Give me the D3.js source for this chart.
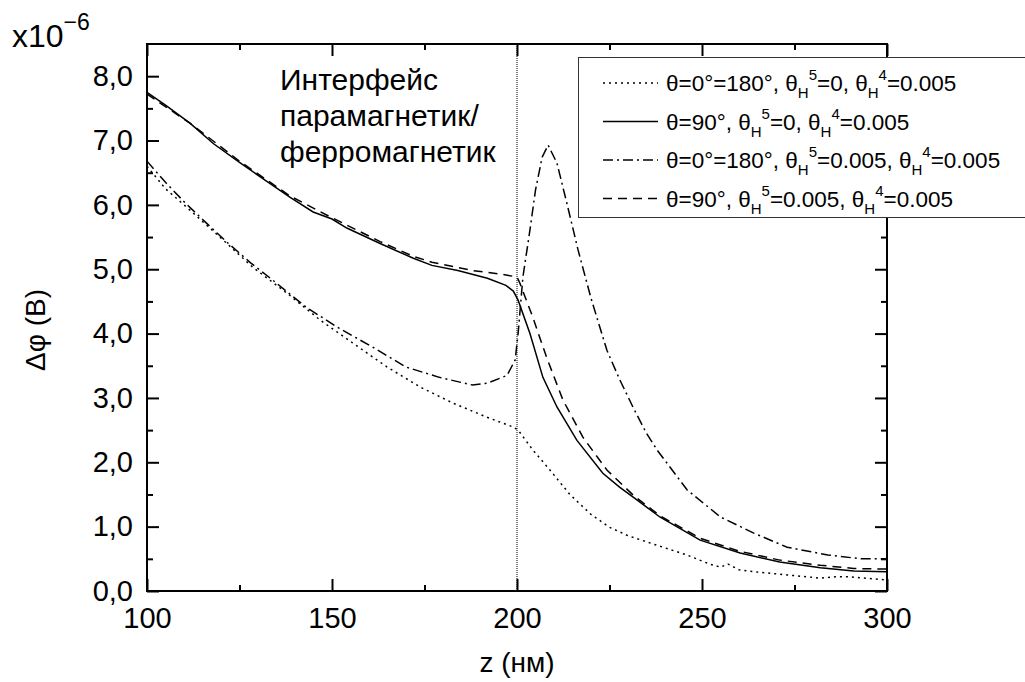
<!DOCTYPE html>
<html><head><meta charset="utf-8">
<script src="https://cdn.jsdelivr.net/npm/d3@7/dist/d3.min.js"></script>
<style>body{margin:0;background:#fff}svg{display:block;font-family:"Liberation Sans",Arial,sans-serif}</style>
</head><body><svg id="c" width="1025" height="682"></svg>
<script>
// ---- data (z in nm, value in units of 1e-6 V) ----
const xMajorTicks = [100, 150, 200, 250, 300];
const xMinorTicks = [125, 175, 225, 275];
const yMajorTicks = [0, 1, 2, 3, 4, 5, 6, 7, 8];
const yMinorTicks = [0.5, 1.5, 2.5, 3.5, 4.5, 5.5, 6.5, 7.5];
const interfaceZ = 200;
const annotationLines = ["Интерфейс", "парамагнетик/", "ферромагнетик"];

const dottedTheta0H5zero = [[100,6.60],[105,6.25],[110.8,5.96],[119.7,5.50],[128.6,5.03],[137.8,4.63],[146.8,4.21],[155.7,3.85],[164.9,3.48],[173.8,3.17],[182.7,2.92],[191.9,2.70],[198.9,2.55],[200.3,2.50],[204.3,2.19],[208.9,1.88],[214.3,1.50],[220,1.19],[225,0.99],[230,0.86],[236.8,0.73],[245.9,0.56],[252,0.42],[255,0.37],[257,0.42],[260,0.33],[264,0.30],[273,0.25],[282,0.20],[286,0.22],[290,0.22],[300,0.17]];
const solidTheta90H5zero = [[100,7.75],[105,7.55],[111.6,7.27],[118,6.95],[125,6.66],[132,6.38],[138.6,6.12],[144.9,5.89],[150,5.78],[154,5.64],[163,5.40],[172,5.17],[177,5.06],[184,4.98],[192,4.86],[197,4.75],[199,4.66],[200.3,4.52],[203.5,4.00],[207,3.32],[210.8,2.86],[216.2,2.34],[223.2,1.83],[227.8,1.61],[231.4,1.46],[238.6,1.15],[249.5,0.79],[260.3,0.59],[271,0.45],[282,0.36],[291,0.31],[300,0.30]];
const dashdotTheta0H5 = [[100,6.68],[105,6.35],[110,6.05],[116,5.72],[122,5.40],[128,5.10],[134,4.83],[143,4.41],[152,4.08],[161,3.79],[170,3.48],[179,3.32],[188,3.20],[192,3.23],[197.3,3.35],[199.5,3.59],[200.3,4.00],[201.6,4.88],[203.5,5.61],[205,6.23],[206.8,6.74],[208.4,6.93],[210.8,6.65],[213.5,6.02],[216.5,5.30],[220,4.55],[224.3,3.74],[227.8,3.28],[231.4,2.85],[235,2.45],[238,2.18],[246,1.57],[255,1.15],[264,0.90],[273,0.68],[284,0.56],[293,0.50],[300,0.50]];
const dashedTheta90H5 = [[100,7.72],[111.6,7.27],[125,6.68],[138.6,6.14],[150,5.80],[163,5.43],[172,5.20],[177,5.11],[188,4.98],[196,4.92],[200,4.88],[200.8,4.78],[204.3,4.25],[208,3.63],[212.4,2.97],[217.8,2.39],[224.3,1.88],[231.4,1.49],[238.6,1.17],[249.5,0.82],[260,0.62],[271,0.48],[282,0.40],[291,0.35],[300,0.34]];

const seriesData = [dottedTheta0H5zero, solidTheta90H5zero, dashdotTheta0H5, dashedTheta90H5];
const seriesTheta = ["0°=180°", "90°", "0°=180°", "90°"];
const seriesH5 = ["0", "0", "0.005", "0.005"];
const seriesH4 = ["0.005", "0.005", "0.005", "0.005"];
const seriesDash = ["2,4", null, "10,4,2,4", "9,6"];

// ---- layout ----
const svg = d3.select("#c");
const L = 147, R = 887, T = 44, B = 591;
const x = d3.scaleLinear().domain([100, 300]).range([L, R]);
const y = d3.scaleLinear().domain([0, 8.5]).range([B, T]);
const fmt = d => d.toFixed(1).replace(".", ",");

// curves
const line = d3.line().x(d => x(d[0])).y(d => y(d[1]));
seriesData.forEach((s, i) => {
  svg.append("path").datum(s).attr("d", line).attr("fill", "none")
    .attr("stroke", "#000").attr("stroke-width", 1.5)
    .attr("stroke-dasharray", seriesDash[i]);
});

// interface line
svg.append("line").attr("x1", x(interfaceZ)).attr("x2", x(interfaceZ))
  .attr("y1", y(8.5)).attr("y2", y(0)).attr("stroke", "#000")
  .attr("stroke-width", 1).attr("stroke-dasharray", "1,1");

// axes
function axisG(gen, tx, ty) {
  const g = svg.append("g").attr("transform", `translate(${tx},${ty})`).call(gen);
  g.select(".domain").remove();
  g.selectAll("line").attr("stroke", "#000").attr("stroke-width", 2);
  g.selectAll("text").attr("font-size", 29).attr("fill", "#000")
    .attr("font-family", '"Liberation Sans",Arial,sans-serif');
  return g;
}
axisG(d3.axisBottom(x).tickValues(xMajorTicks).tickSize(-12).tickPadding(16).tickFormat(d3.format("d")), 0, B);
axisG(d3.axisBottom(x).tickValues(xMinorTicks).tickSize(-6).tickFormat(""), 0, B);
axisG(d3.axisTop(x).tickValues(xMajorTicks).tickSize(-12).tickFormat(""), 0, T);
axisG(d3.axisTop(x).tickValues(xMinorTicks).tickSize(-6).tickFormat(""), 0, T);
axisG(d3.axisLeft(y).tickValues(yMajorTicks).tickSize(-12).tickPadding(14).tickFormat(fmt), L, 0);
axisG(d3.axisLeft(y).tickValues(yMinorTicks).tickSize(-6).tickFormat(""), L, 0);
axisG(d3.axisRight(y).tickValues(yMajorTicks).tickSize(-12).tickFormat(""), R, 0);
axisG(d3.axisRight(y).tickValues(yMinorTicks).tickSize(-6).tickFormat(""), R, 0);

svg.append("rect").attr("x", L).attr("y", T).attr("width", R - L).attr("height", B - T)
  .attr("fill", "none").attr("stroke", "#000").attr("stroke-width", 2);

// multiplier
const mult = svg.append("text").attr("x", 12).attr("y", 47).attr("font-size", 32).attr("fill", "#000");
mult.append("tspan").text("x10");
mult.append("tspan").attr("font-size", 23).attr("dy", -17).text("−6");

// axis titles
svg.append("text").attr("x", (L + R) / 2).attr("y", 672).attr("text-anchor", "middle")
  .attr("font-size", 28).text("z (нм)");
svg.append("text").attr("transform", "translate(45,330) rotate(-90)").attr("text-anchor", "middle")
  .attr("font-size", 28).text("Δφ (B)");

// annotation
annotationLines.forEach((t, i) => {
  svg.append("text").attr("x", 280).attr("y", 90 + i * 36).attr("font-size", 30).text(t);
});

// legend
const lg = svg.append("g");
lg.append("rect").attr("x", 578.5).attr("y", 57.5).attr("width", 470).attr("height", 160)
  .attr("fill", "#fff").attr("stroke", "#333").attr("stroke-width", 1);
seriesData.forEach((s, i) => {
  const cy = 83 + i * 38.5;
  lg.append("line").attr("x1", 603).attr("x2", 658).attr("y1", cy).attr("y2", cy)
    .attr("stroke", "#000").attr("stroke-width", 1.5).attr("stroke-dasharray", seriesDash[i]);
  const t = lg.append("text").attr("x", 666).attr("y", cy + 8).attr("font-size", 22.5);
  t.append("tspan").text("θ=" + seriesTheta[i] + ", θ");
  t.append("tspan").attr("font-size", 15).attr("dy", 7).text("H");
  t.append("tspan").attr("font-size", 15).attr("dy", -18).text("5");
  t.append("tspan").attr("dy", 11).text("=" + seriesH5[i] + ", θ");
  t.append("tspan").attr("font-size", 15).attr("dy", 7).text("H");
  t.append("tspan").attr("font-size", 15).attr("dy", -18).text("4");
  t.append("tspan").attr("dy", 11).text("=" + seriesH4[i]);
});
</script></body></html>
